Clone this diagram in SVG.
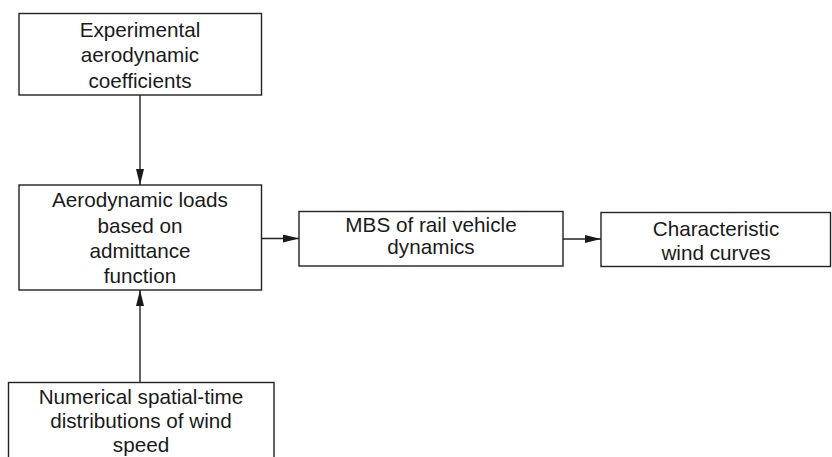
<svg xmlns="http://www.w3.org/2000/svg" width="832" height="457" viewBox="0 0 832 457">
<defs>
<style>
.box{fill:#fff;stroke:#222;stroke-width:1.4}
.t{font-family:"Liberation Sans",Arial,sans-serif;font-size:20.7px;fill:#1a1a1a;text-anchor:middle}
.c{stroke:#222;stroke-width:1.4;fill:none}
</style>
<marker id="ah" markerWidth="16" markerHeight="8" refX="16" refY="4" orient="auto" markerUnits="userSpaceOnUse">
<path d="M0,0 L16,4 L0,8 Z" fill="#1a1a1a"/>
</marker>
</defs>
<rect width="832" height="457" fill="#fff"/>
<g id="n1">
<rect class="box" x="19" y="13.5" width="242.5" height="81.5"/>
<text class="t" x="140" y="36.5">Experimental</text>
<text class="t" x="140" y="62">aerodynamic</text>
<text class="t" x="140" y="87.5">coefficients</text>
</g>
<g id="n2">
<rect class="box" x="19" y="185" width="242.5" height="105"/>
<text class="t" x="140" y="207">Aerodynamic loads</text>
<text class="t" x="140" y="232.5">based on</text>
<text class="t" x="140" y="257.5">admittance</text>
<text class="t" x="140" y="283">function</text>
</g>
<g id="n3">
<rect class="box" x="299" y="211.5" width="264" height="54.5"/>
<text class="t" x="431" y="232">MBS of rail vehicle</text>
<text class="t" x="431" y="254">dynamics</text>
</g>
<g id="n4">
<rect class="box" x="601" y="212.5" width="229.5" height="54"/>
<text class="t" x="716" y="235.5">Characteristic</text>
<text class="t" x="716" y="260">wind curves</text>
</g>
<g id="n5">
<rect class="box" x="8.5" y="382.5" width="265.5" height="80"/>
<text class="t" x="141" y="403.5">Numerical spatial-time</text>
<text class="t" x="141" y="427.5">distributions of wind</text>
<text class="t" x="141" y="452">speed</text>
</g>
<g id="connectors">
<line class="c" x1="140" y1="95" x2="140" y2="185" marker-end="url(#ah)"/>
<line class="c" x1="140" y1="382.5" x2="140" y2="290" marker-end="url(#ah)"/>
<line class="c" x1="261.5" y1="238.5" x2="299" y2="238.5" marker-end="url(#ah)"/>
<line class="c" x1="563" y1="239" x2="601" y2="239" marker-end="url(#ah)"/>
</g>
</svg>
